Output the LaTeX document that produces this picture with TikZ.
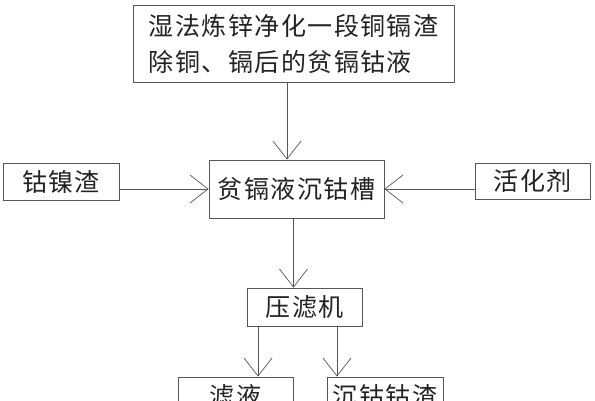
\documentclass[tikz,border=0pt]{standalone}
\usepackage{fontspec}
\usepackage{xcolor}
\usetikzlibrary{arrows.meta, positioning, calc}
\newfontfamily\cjk[LetterSpace=6]{Noto Sans CJK SC}
\definecolor{linegray}{HTML}{555555}
\definecolor{textgray}{HTML}{222222}

\begin{document}
\begin{tikzpicture}[
  x=1pt, y=-1pt,
  box/.style={rectangle, draw=linegray, line width=0.8pt, text=textgray, inner sep=0pt, font=\cjk\fontsize{25}{36}\selectfont},
  arrow/.style={-{Straight Barb[length=18pt, width=28pt, line width=0.7pt]}, line width=0.8pt, draw=linegray}
]
  \useasboundingbox (0,0) rectangle (595,400);
  \node[box, minimum width=321pt, minimum height=77pt, align=left] (liquor) at (293.5,43.5) {湿法炼锌净化一段铜镉渣\\除铜、镉后的贫镉钴液};
  \node[box, minimum width=175pt, minimum height=58pt] (tank) at (296.5,189) {贫镉液沉钴槽};
  \node[box, minimum width=116pt, minimum height=37pt] (slag) at (61,181.5) {钴镍渣};
  \node[box, minimum width=115pt, minimum height=36pt] (agent) at (532.5,181) {活化剂};
  \node[box, minimum width=115pt, minimum height=38pt] (press) at (304.5,307) {压滤机};
  \node[box, minimum width=115pt, minimum height=38pt] (filtrate) at (235.5,396) {滤液};
  \node[box, minimum width=116pt, minimum height=38pt] (cake) at (385,396) {沉钴钴渣};

  \draw[arrow] ([xshift=-6.5pt]liquor.south) -- ([xshift=-6.5pt]liquor.south |- tank.north);
  \draw[arrow] (slag.east |- tank.west) -- (tank.west);
  \draw[arrow] (agent.west |- tank.east) -- (tank.east);
  \draw[arrow] ([xshift=-3pt]tank.south) -- ([xshift=-3pt]tank.south |- press.north);
  \draw[arrow] ([xshift=-46.5pt]press.south) -- ([xshift=-46.5pt]press.south |- filtrate.north);
  \draw[arrow] ([xshift=32.5pt]press.south) -- ([xshift=32.5pt]press.south |- cake.north);
\end{tikzpicture}
\end{document}
